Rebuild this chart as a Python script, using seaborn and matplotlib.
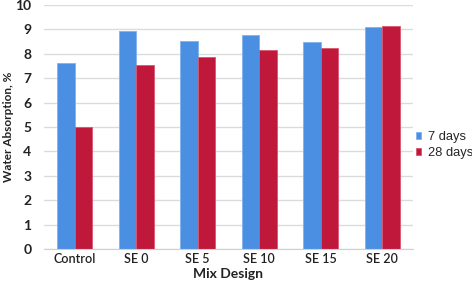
import matplotlib
matplotlib.use("Agg")
import matplotlib.pyplot as plt
import seaborn as sns
import pandas as pd

categories = ["Control", "SE 0", "SE 5", "SE 10", "SE 15", "SE 20"]
days7 = [7.6, 8.93, 8.52, 8.76, 8.47, 9.11]
days28 = [4.98, 7.52, 7.88, 8.17, 8.25, 9.13]
series = ["7 days", "28 days"]
yticks = [0, 1, 2, 3, 4, 5, 6, 7, 8, 9, 10]

df = pd.DataFrame({
    "Mix Design": categories * 2,
    "value": days7 + days28,
    "series": [series[0]] * len(categories) + [series[1]] * len(categories),
})

sns.set_style("white")
plt.rcParams["font.family"] = ["Lato", "DejaVu Sans"]

fig = plt.figure(figsize=(4.72, 2.86), dpi=100)
ax = fig.add_axes([0.093, 0.129, 0.782, 0.854])

palette = {"7 days": "#4A8FE2", "28 days": "#C0183B"}
sns.barplot(data=df, x="Mix Design", y="value", hue="series", palette=palette,
            width=0.57, saturation=1, ax=ax, legend=True)

for p in ax.patches:
    fc = p.get_facecolor()
    p.set_edgecolor("#7fb2ee" if fc[2] > 0.5 else "#d9566f")
    p.set_linewidth(0.6)

ax.set_ylim(0, 10)
ax.set_yticks(yticks)
ax.set_yticklabels([str(t) for t in yticks], fontsize=10, fontweight="bold", color="#222222")
ax.set_xlim(-0.5, 5.5)
ax.set_xticks(range(len(categories)))
ax.set_xticklabels(categories, fontsize=9, fontweight="semibold", color="#222222")
ax.tick_params(axis="x", length=0, pad=3)
ax.tick_params(axis="y", length=0, pad=9)
ax.yaxis.grid(True, color="#d9dcdc", linewidth=1.0)
ax.set_axisbelow(True)
for s in ["top", "right", "left"]:
    ax.spines[s].set_visible(False)
ax.spines["bottom"].set_color("#d0d0d0")
ax.set_xlabel("Mix Design", fontsize=10, fontweight="bold", color="#222222", labelpad=2)
ax.set_ylabel("Water Absorption, %", fontsize=8.5, fontweight="bold", color="#222222")
ax.yaxis.set_label_coords(-0.08, 0.5)

leg = ax.legend(loc="center left", bbox_to_anchor=(413 / 472, 1 - 145 / 286),
                bbox_transform=fig.transFigure, frameon=False,
                handlelength=0.45, handleheight=0.45, handletextpad=0.5,
                labelspacing=0.3, borderaxespad=0.0, borderpad=0.2,
                prop={"family": "Liberation Sans", "size": 9.3})

fig.savefig("out.png", dpi=100)
